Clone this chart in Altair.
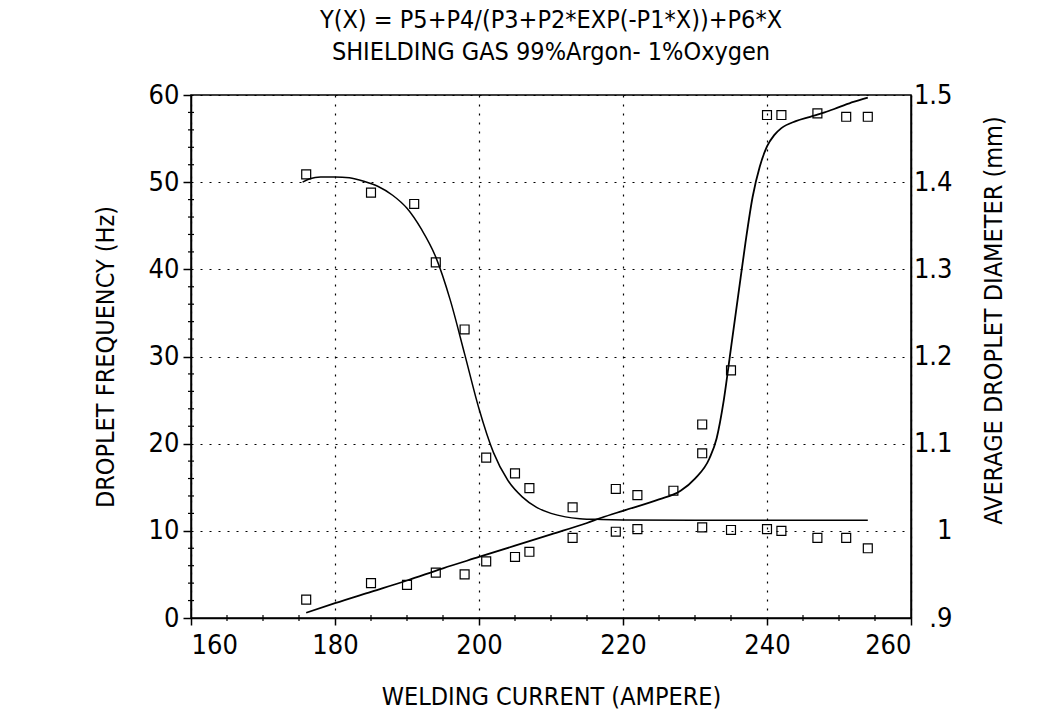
import altair as alt
import pandas as pd

# ---------------- data ----------------
# Droplet frequency (Hz), left axis
freq_current = [176, 185, 190, 194, 198, 201, 205, 207, 213, 219, 222, 227, 231, 231, 235, 240, 242, 247, 251, 254]
freq_hz = [2.1, 4.0, 3.8, 5.2, 5.0, 6.5, 7.0, 7.6, 9.2, 14.8, 14.1, 14.6, 22.2, 18.9, 28.4, 57.7, 57.7, 57.9, 57.5, 57.5]

freq_fit_current = [176, 180, 185, 190, 195, 200, 205, 210, 215, 217, 220, 225, 228, 230, 232, 233, 234, 235,
                    236, 237, 238, 239, 240, 241, 242, 244, 246, 248, 250, 252, 254]
freq_fit_hz = [0.6, 1.7, 3.0, 4.3, 5.7, 7.0, 8.3, 9.6, 10.9, 11.5, 12.3, 13.6, 14.6, 16.0, 18.3, 20.6, 25.0, 31.0,
               37.0, 43.0, 48.3, 51.8, 54.1, 55.4, 56.2, 57.0, 57.5, 58.0, 58.6, 59.2, 59.7]

# Average droplet diameter (mm), right axis
diam_current = [176, 185, 191, 194, 198, 201, 205, 207, 213, 219, 222, 231, 235, 240, 242, 247, 251, 254]
diam_mm = [1.409, 1.388, 1.375, 1.308, 1.231, 1.084, 1.066, 1.049, 1.027, 0.999, 1.002, 1.004, 1.001,
           1.002, 1.000, 0.992, 0.992, 0.980]

diam_fit_current = [175.5, 176.5, 178, 180, 182, 184, 186, 188, 190, 192, 194, 196, 198, 200,
                    202, 204, 206, 208, 210, 212, 214, 217, 220, 230, 240, 254]
diam_fit_mm = [1.400, 1.404, 1.406, 1.406, 1.405, 1.401, 1.395, 1.385, 1.370, 1.346, 1.314, 1.265, 1.203, 1.140,
               1.090, 1.058, 1.039, 1.027, 1.020, 1.016, 1.014, 1.013, 1.0125, 1.012, 1.012, 1.012]

# tick values
x_major = [160, 180, 200, 220, 240, 260]
x_minor = [v for v in range(160, 261, 5) if v % 20 != 0]
y_left_major = [0, 10, 20, 30, 40, 50, 60]
y_left_minor = [v for v in range(0, 61, 2) if v % 10 != 0]
y_right_major = [0.9, 1.0, 1.1, 1.2, 1.3, 1.4, 1.5]

TITLE_1 = "Y(X) = P5+P4/(P3+P2*EXP(-P1*X))+P6*X"
TITLE_2 = "SHIELDING GAS 99%Argon- 1%Oxygen"

FONT = "'Liberation Sans Narrow', 'DejaVu Sans Condensed', 'Liberation Sans', sans-serif"
W, H = 720, 523

freq_df = pd.DataFrame({"current": freq_current, "freq": freq_hz})
freq_fit_df = pd.DataFrame({"current": freq_fit_current, "freq": freq_fit_hz})
diam_df = pd.DataFrame({"current": diam_current, "diam": diam_mm})
diam_fit_df = pd.DataFrame({"current": diam_fit_current, "diam": diam_fit_mm})
xminor_df = pd.DataFrame({"current": x_minor})
yminor_df = pd.DataFrame({"freq": y_left_minor})

x_scale = alt.Scale(domain=[160, 260], nice=False, zero=False)
yl_scale = alt.Scale(domain=[0, 60], nice=False)
yr_scale = alt.Scale(domain=[0.9, 1.5], nice=False, zero=False)

x_axis = alt.Axis(
    values=x_major, title="WELDING CURRENT (AMPERE)", grid=True, gridDash=[2, 7],
    gridColor="black", gridWidth=1.2, tickSize=7, tickColor="black", tickWidth=1.5,
    domainColor="black", domainWidth=1.5, labelFontSize=27, labelPadding=7,
    titleFontSize=25, titleY=86, titleBaseline="alphabetic",
)
yl_axis = alt.Axis(
    values=y_left_major, title="DROPLET FREQUENCY (Hz)", grid=True, gridDash=[2, 7],
    gridColor="black", gridWidth=1.2, tickSize=8, tickColor="black", tickWidth=1.5,
    domainColor="black", domainWidth=1.5, labelFontSize=27, labelPadding=4,
    titleFontSize=25, titleAngle=270, titleX=-86, titleY=H / 2, titleBaseline="middle",
)
yr_axis = alt.Axis(
    orient="right", values=y_right_major, title="AVERAGE DROPLET DIAMETER (mm)", grid=False,
    ticks=False, domainColor="black", domainWidth=1.5, labelFontSize=27, labelPadding=41,
    labelAlign="right",
    labelExpr="datum.value < 0.95 ? '.9' : (abs(datum.value - 1) < 0.01 ? '1' : format(datum.value, '.1f'))",
    titleFontSize=25, titleAngle=270, titleX=82, titleY=225, titleBaseline="middle",
)

X = alt.X("current:Q", scale=x_scale, axis=x_axis)
YL = alt.Y("freq:Q", scale=yl_scale, axis=yl_axis)
YR = alt.Y("diam:Q", scale=yr_scale, axis=yr_axis)

freq_line = alt.Chart(freq_fit_df).mark_line(color="black", strokeWidth=1.8, interpolate="monotone").encode(x=X, y=YL)
freq_pts = alt.Chart(freq_df).mark_point(shape="square", filled=False, size=80, color="black", strokeWidth=1.2, opacity=1).encode(x=X, y=YL)
x_minor_ticks = alt.Chart(xminor_df).mark_rule(color="black", strokeWidth=1.2).encode(
    x=X, y=alt.value(H - 3), y2=alt.value(H + 3))
y_minor_ticks = alt.Chart(yminor_df).mark_rule(color="black", strokeWidth=1.2).encode(
    y=YL, x=alt.value(-3), x2=alt.value(3))

left = alt.layer(freq_line, freq_pts, x_minor_ticks, y_minor_ticks)

diam_line = alt.Chart(diam_fit_df).mark_line(color="black", strokeWidth=1.5, interpolate="monotone").encode(x=X, y=YR)
diam_pts = alt.Chart(diam_df).mark_point(shape="square", filled=False, size=80, color="black", strokeWidth=1.2, opacity=1).encode(x=X, y=YR)
right = alt.layer(diam_line, diam_pts)

chart = alt.layer(left, right).resolve_scale(y="independent").properties(
    width=W, height=H,
    title=alt.TitleParams(
        text=TITLE_1, subtitle=TITLE_2, anchor="middle", font=FONT, subtitleFont=FONT,
        fontSize=25, subtitleFontSize=25, fontWeight="normal", color="black", subtitleColor="black",
        offset=16, subtitlePadding=7,
    ),
    autosize=alt.AutoSizeParams(type="none"),
    padding={"left": 191, "top": 95, "right": 131, "bottom": 96},
    background="white",
).configure_view(stroke="black", strokeWidth=1.5).configure_axis(
    labelFont=FONT, titleFont=FONT, labelColor="black", titleColor="black", titleFontWeight="normal"
)

chart.save("out.html", embed_options={"renderer": "svg", "actions": False})
